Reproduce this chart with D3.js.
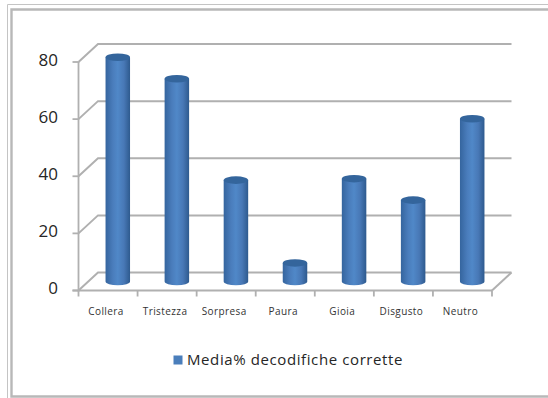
<!DOCTYPE html>
<html>
<head>
<meta charset="utf-8">
<script src="https://cdn.jsdelivr.net/npm/d3@7/dist/d3.min.js"></script>
<style>
html,body{margin:0;padding:0;background:#fff}
svg{display:block}
text{font-family:"Open Sans","Liberation Sans",sans-serif}
</style>
</head>
<body>
<svg id="chart" width="548" height="398"></svg>
<script>
const categories = ["Collera","Tristezza","Sorpresa","Paura","Gioia","Disgusto","Neutro"];
const values = [78.5,71,35.5,6.5,36,28.5,57];
const yTicks = [0,20,40,60,80];
const seriesName = "Media% decodifiche corrette";

const svg = d3.select("#chart");
const defs = svg.append("defs");

// Cylinder shading: dark edges, lighter centre
const grad = defs.append("linearGradient").attr("id","cyl").attr("x1",0).attr("x2",1).attr("y1",0).attr("y2",0);
[[0,"#35659e"],[0.3,"#4a7dbc"],[0.5,"#5088c8"],[0.75,"#4878b6"],[1,"#2e5a8e"]]
  .forEach(([o,c])=>grad.append("stop").attr("offset",o).attr("stop-color",c));

// Frame: thin outer and heavier inner rule, open at the right edge
const frame = svg.append("g").attr("fill","none");
frame.append("path").attr("d","M548,4.5H7.5V398").attr("stroke","#c4c4c4").attr("stroke-width",1);
frame.append("path").attr("d","M548,9.5H11.5V396.5H548").attr("stroke","#b8b8b8").attr("stroke-width",2.4);

// Plot geometry of the 3D box
const left = 78.5, right = 492, depthX = 19.5, depthY = 18;
const x = d3.scaleBand().domain(categories).range([left,right]);
const y = d3.scaleLinear().domain([0,80]).range([290.5,62]);
const gridColor = "#b0b0b0";

// Back wall gridlines and their slanted side-wall returns
const grid = svg.append("g").attr("fill","none").attr("stroke",gridColor).attr("stroke-width",2);
yTicks.forEach(t=>{
  grid.append("polyline").attr("points",[
    [left,y(t)],[left+depthX,y(t)-depthY],[right+depthX,y(t)-depthY]
  ].join(" "));
});
// Floor edge on the right side
grid.append("line").attr("x1",right).attr("y1",y(0)).attr("x2",right+depthX).attr("y2",y(0)-depthY);

// Axes
const axisG = svg.append("g").attr("stroke",gridColor).attr("stroke-width",1.8);
axisG.append("line").attr("x1",left).attr("x2",left).attr("y1",y(80)).attr("y2",y(0)+1);
axisG.append("line").attr("x1",left-6).attr("x2",right).attr("y1",y(0)).attr("y2",y(0));
yTicks.forEach(t=>axisG.append("line").attr("x1",left-6).attr("x2",left).attr("y1",y(t)).attr("y2",y(t)));
x.domain().forEach(c=>axisG.append("line").attr("x1",x(c)).attr("x2",x(c)).attr("y1",y(0)).attr("y2",y(0)+6));
axisG.append("line").attr("x1",right).attr("x2",right).attr("y1",y(0)).attr("y2",y(0)+6);

// Value labels
svg.append("g").selectAll("text").data(yTicks).join("text")
  .attr("x",58).attr("y",d=>y(d)-1).attr("text-anchor","end").attr("dominant-baseline","middle")
  .attr("font-size",17).attr("fill","#262626").text(d=>d);

// Category labels
svg.append("g").selectAll("text").data(categories).join("text")
  .attr("x",d=>x(d)+x.bandwidth()/2-2).attr("y",315).attr("text-anchor","middle")
  .attr("font-size",10).attr("letter-spacing",0.4).attr("fill","#333").text(d=>d);

// Cylinders stand halfway into the box depth
const barW = 24.5, rx = barW/2, ry = 3.8;
const bars = svg.append("g").selectAll("g").data(categories.map((c,i)=>({c,v:values[i]}))).join("g")
  .attr("transform",d=>`translate(${x(d.c)+x.bandwidth()/2+depthX/2},${-depthY/2})`);
bars.append("path")
  .attr("d",d=>{
    const top=y(d.v), base=y(0);
    return `M${-rx},${top}L${-rx},${base}A${rx},${ry} 0 0 0 ${rx},${base}L${rx},${top}Z`;
  })
  .attr("fill","url(#cyl)");
bars.append("ellipse").attr("cx",0).attr("cy",d=>y(d.v)).attr("rx",rx).attr("ry",ry)
  .attr("fill","#34659c");

// Legend
svg.append("rect").attr("x",173.5).attr("y",355.5).attr("width",9).attr("height",9).attr("fill","#4a7ebb");
svg.append("text").attr("x",187).attr("y",365).attr("font-size",15).attr("fill","#262626")
  .attr("letter-spacing",0.6).text(seriesName);
</script>
</body>
</html>
